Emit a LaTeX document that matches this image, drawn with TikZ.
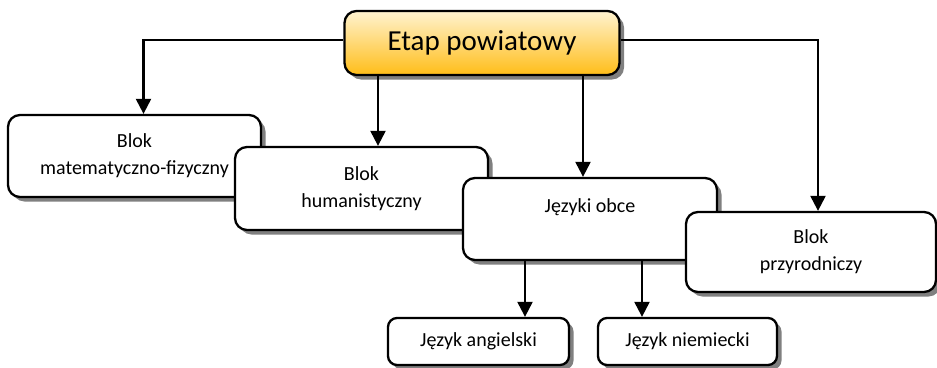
\documentclass[tikz,border=0pt]{standalone}
\usepackage{fontspec}
\setmainfont{Carlito}
\usetikzlibrary{arrows.meta,shadows}
\tikzset{
  box/.style={draw=black, line width=2.3pt, rounded corners=12pt, fill=white, align=center,
    font=\fontsize{20}{27}\selectfont, inner sep=0pt,
    drop shadow={shadow xshift=4.5pt, shadow yshift=-4.5pt, fill=black!50, opacity=1}},
  smallbox/.style={box, rounded corners=9pt},
  topbox/.style={box, top color={rgb,255:red,255;green,243;blue,208}, bottom color={rgb,255:red,255;green,189;blue,24},
    font=\fontsize{29}{34}\selectfont},
  arr/.style={line width=2.2pt, -{Triangle[length=15pt,width=15pt]}}
}
\begin{document}
\begin{tikzpicture}[x=1pt,y=-1pt]
\useasboundingbox (0,0) rectangle (937,367);
\node[topbox, minimum width=275, minimum height=64] (top) at (482,43) {Etap powiatowy};
\node[box, minimum width=253, minimum height=82] (b1) at (134.5,156) {Blok\\matematyczno-fizyczny};
\node[box, minimum width=253, minimum height=83] (b2) at (361.5,188.5) {Blok\\humanistyczny};
\node[box, minimum width=254, minimum height=82] (b3) at (590,219) {Języki obce\\\mbox{}};
\node[box, minimum width=250, minimum height=80] (b4) at (811,252) {Blok\\przyrodniczy};
\node[smallbox, minimum width=181, minimum height=47] (b5) at (478.5,341.5) {Język angielski};
\node[smallbox, minimum width=179, minimum height=47] (b6) at (687.5,341.5) {Język niemiecki};
\draw[arr] ([yshift=3pt]top.west) -| ([xshift=9pt]b1.north);
\draw[arr] ([xshift=-104pt]top.south) -- ([xshift=16.5pt]b2.north);
\draw[arr] ([xshift=101pt]top.south) -- ([xshift=-7pt]b3.north);
\draw[arr] ([yshift=3pt]top.east) -| ([xshift=7pt]b4.north);
\draw[arr] ([xshift=-65pt]b3.south) -- ([xshift=46.5pt]b5.north);
\draw[arr] ([xshift=52pt]b3.south) -- ([xshift=-45.5pt]b6.north);
\end{tikzpicture}
\end{document}
